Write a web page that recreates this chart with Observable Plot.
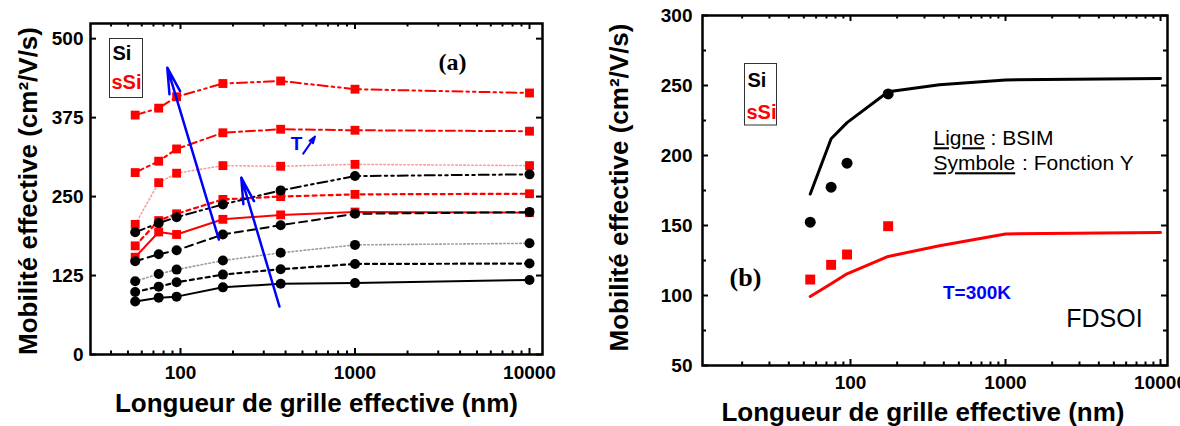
<!DOCTYPE html>
<html><head><meta charset="utf-8">
<script src="https://cdn.jsdelivr.net/npm/d3@7"></script>
<script src="https://cdn.jsdelivr.net/npm/@observablehq/plot@0.6"></script>
<style>
body{margin:0;background:#fff;}
#wrap{position:relative;width:1180px;height:426px;overflow:hidden;background:#fff}
#pa{position:absolute;left:0;top:0}
#pb{position:absolute;left:580px;top:0}
</style></head><body><div id="wrap"><div id="pa"></div><div id="pb"></div></div>
<script>
// ---------- data ----------
const lengthsA = [55, 75, 95, 175, 375, 1000, 10000];
// Si (black circles), five temperatures
const si1 = [84, 90, 91.6, 106.3, 112, 113, 118];
const si2 = [99, 107.4, 114.3, 126.5, 135, 143.3, 144];
const si3 = [116, 127.4, 134.4, 148.7, 161, 173.5, 176];
const si4 = [147.6, 158.7, 165, 190, 204.7, 222.7, 225.4];
const si5 = [193.6, 208, 217.4, 237.6, 259.8, 282.5, 285.2];
// sSi (red squares), five temperatures
const ssi1 = [154, 194, 190, 214, 221, 225.5, 224.5];
const ssi2 = [172, 212, 222.7, 245.5, 250, 253.5, 254.5];
const ssi3 = [206, 272, 287, 299, 298, 301, 299];
const ssi4 = [288, 306, 325.4, 351, 356.6, 355, 353.5];
const ssi5 = [379, 390, 408, 429, 433, 420, 414];

// panel (b)
const lengthsB = [55, 75, 95, 175];
const fyB_Si = [152.4, 177.4, 194.5, 244];
const fyB_sSi = [111.4, 121.9, 129.3, 149.5];
const bsimLengths = [55, 75, 95, 175, 375, 1000, 10000];
const bsimSi = [172.5, 212, 223.5, 245.5, 250.5, 254, 255];
const bsimSsi = [99.3, 108.4, 115.5, 127.9, 135.5, 144, 145];

// ticks
const xTickLabels = [100, 1000, 10000];
const yTicksA = [0, 125, 250, 375, 500];
const yTicksB = [50, 100, 150, 200, 250, 300];
const yMinorB = [75, 125, 175, 225, 275];

// annotation arrows (data units)
const tArrows = [
  {x1: 166, y1: 182, x2: 84, y2: 454},
  {x1: 369, y1: 76, x2: 223, y2: 280}
];
const tSmallArrow = [{x1: 505, y1: 318, x2: 590, y2: 345}];

// ---------- helpers ----------
const FONT = "Liberation Sans, Arial, Helvetica, sans-serif";
const SERIF = "Liberation Serif, Times New Roman, serif";
const BLUE = "#0000ff";
const RED = "#ff0000";
function rows(xs, ys) { return xs.map((x, i) => ({x, y: ys[i]})); }
function minorLog(lo, hi) {
  const out = [];
  for (let d = 10; d <= 10000; d *= 10)
    for (let k = 2; k <= 9; k++) { const v = k * d; if (v > lo && v < hi) out.push(v); }
  return out;
}
// pixel-offset label inside the frame
function label(str, dx, dy, opts) {
  return Plot.text([str], Object.assign({text: d => d, frameAnchor: "top-left", dx, dy,
    textAnchor: "middle", lineAnchor: "middle", fill: "#000"}, opts));
}

// ---------- panel (a) ----------
const WA = 580, HA = 426, mlA = 90, mrA = 38, mtA = 23, mbA = 72;
const iwA = WA - mlA - mrA, ihA = HA - mtA - mbA;
const xDomA = [30.5, 11870];
const minorA = minorLog(xDomA[0], xDomA[1]);

const siSeries = [
  {d: si1, stroke: "#000", dash: null, w: 2},
  {d: si2, stroke: "#000", dash: "4,4", w: 2.2},
  {d: si3, stroke: "#9a9a9a", dash: "1.5,2.5", w: 1.6},
  {d: si4, stroke: "#000", dash: "8,5", w: 2},
  {d: si5, stroke: "#000", dash: "10,4,2.5,4,2.5,4", w: 2}
];
const ssiSeries = [
  {d: ssi1, stroke: RED, dash: null, w: 2},
  {d: ssi2, stroke: RED, dash: "4,4", w: 2.2},
  {d: ssi3, stroke: "#ff9a9a", dash: "1.5,2.5", w: 1.6},
  {d: ssi4, stroke: RED, dash: "9,4,3,4", w: 2},
  {d: ssi5, stroke: RED, dash: "10,4,2.5,4,2.5,4", w: 2}
];

const marksA = [];
marksA.push(
  Plot.tickY(yTicksA, {y: d => d, insetRight: iwA - 6, stroke: "#000", strokeWidth: 2}),
  Plot.tickY(yTicksA, {y: d => d, insetLeft: iwA - 6, stroke: "#000", strokeWidth: 2}),
  Plot.tickX(xTickLabels, {x: d => d, insetTop: ihA - 6, stroke: "#000", strokeWidth: 2}),
  Plot.tickX(xTickLabels, {x: d => d, insetBottom: ihA - 6, stroke: "#000", strokeWidth: 2}),
  Plot.tickX(minorA, {x: d => d, insetTop: ihA - 3.5, stroke: "#000", strokeWidth: 2}),
  Plot.tickX(minorA, {x: d => d, insetBottom: ihA - 3.5, stroke: "#000", strokeWidth: 2})
);
for (const s of ssiSeries) {
  marksA.push(Plot.line(rows(lengthsA, s.d), {x: "x", y: "y", stroke: s.stroke, strokeWidth: s.w, strokeDasharray: s.dash}));
}
for (const s of ssiSeries) {
  marksA.push(Plot.dot(rows(lengthsA, s.d), {x: "x", y: "y", symbol: "square", r: 5, fill: RED, stroke: "none"}));
}
for (const s of siSeries) {
  marksA.push(Plot.line(rows(lengthsA, s.d), {x: "x", y: "y", stroke: s.stroke, strokeWidth: s.w, strokeDasharray: s.dash}));
}
for (const s of siSeries) {
  marksA.push(Plot.dot(rows(lengthsA, s.d), {x: "x", y: "y", symbol: "circle", r: 5, fill: "#000", stroke: "none"}));
}
marksA.push(
  Plot.arrow(tArrows, {x1: "x1", y1: "y1", x2: "x2", y2: "y2", stroke: BLUE, strokeWidth: 2.5, headLength: 16, headAngle: 24}),
  Plot.arrow(tSmallArrow, {x1: "x1", y1: "y1", x2: "x2", y2: "y2", stroke: BLUE, strokeWidth: 2, headLength: 7, headAngle: 35}),
  label("T", 206, 120, {fill: BLUE, fontSize: 19, fontWeight: "bold"}),
  Plot.frame({stroke: "#333", strokeWidth: 1, insetLeft: 19, insetTop: 15, insetRight: 400, insetBottom: 257}),
  label("Si", 22, 30, {textAnchor: "start", fontSize: 20, fontWeight: "bold"}),
  label("sSi", 21, 59, {textAnchor: "start", fill: RED, fontSize: 20, fontWeight: "bold"}),
  label("(a)", 362, 39, {fontSize: 24, fontWeight: "bold", fontFamily: SERIF}),
  Plot.frame({stroke: "#000", strokeWidth: 2.5}),
  Plot.axisY(yTicksA, {tickSize: 0, tickPadding: 7, fontSize: 19, fontWeight: "bold", label: null}),
  Plot.axisX(xTickLabels, {tickSize: 0, tickPadding: 11, fontSize: 19, fontWeight: "bold", label: null, tickFormat: d => String(d)}),
  Plot.text(["Mobilité effective (cm²/V/s)"], {text: d => d, frameAnchor: "left", textAnchor: "middle", lineAnchor: "middle", rotate: -90, dx: -62, dy: 2, fontSize: 26, fontWeight: "bold"}),
  Plot.text(["Longueur de grille effective (nm)"], {text: d => d, frameAnchor: "bottom", textAnchor: "middle", lineAnchor: "middle", dy: 49, fontSize: 26, fontWeight: "bold"})
);

const plotA = Plot.plot({
  width: WA, height: HA,
  marginLeft: mlA, marginRight: mrA, marginTop: mtA, marginBottom: mbA,
  style: {fontFamily: FONT, color: "#000", background: "transparent", overflow: "visible"},
  x: {type: "log", domain: xDomA},
  y: {domain: [0, 524]},
  marks: marksA
});
document.getElementById("pa").appendChild(plotA);

// ---------- panel (b) ----------
const WB = 600, HB = 426, mlB = 122, mrB = 13, mtB = 15, mbB = 61;
const iwB = WB - mlB - mrB, ihB = HB - mtB - mbB;
const xDomB = [11.1, 11090];
const minorB = minorLog(xDomB[0], xDomB[1]);

const marksB = [
  Plot.tickY(yTicksB, {y: d => d, insetRight: iwB - 6, stroke: "#000", strokeWidth: 2}),
  Plot.tickY(yTicksB, {y: d => d, insetLeft: iwB - 6, stroke: "#000", strokeWidth: 2}),
  Plot.tickY(yMinorB, {y: d => d, insetRight: iwB - 4, stroke: "#000", strokeWidth: 2}),
  Plot.tickY(yMinorB, {y: d => d, insetLeft: iwB - 4, stroke: "#000", strokeWidth: 2}),
  Plot.tickX(xTickLabels, {x: d => d, insetTop: ihB - 6, stroke: "#000", strokeWidth: 2}),
  Plot.tickX(xTickLabels, {x: d => d, insetBottom: ihB - 6, stroke: "#000", strokeWidth: 2}),
  Plot.tickX(minorB, {x: d => d, insetTop: ihB - 3.5, stroke: "#000", strokeWidth: 2}),
  Plot.tickX(minorB, {x: d => d, insetBottom: ihB - 3.5, stroke: "#000", strokeWidth: 2}),
  Plot.line(rows(bsimLengths, bsimSi), {x: "x", y: "y", stroke: "#000", strokeWidth: 3}),
  Plot.line(rows(bsimLengths, bsimSsi), {x: "x", y: "y", stroke: RED, strokeWidth: 3}),
  Plot.dot(rows(lengthsB, fyB_Si), {x: "x", y: "y", symbol: "circle", r: 5.5, fill: "#000", stroke: "none"}),
  Plot.dot(rows(lengthsB, fyB_sSi), {x: "x", y: "y", symbol: "square", r: 5.6, fill: RED, stroke: "none"}),
  Plot.frame({stroke: "#333", strokeWidth: 1, insetLeft: 42, insetTop: 48, insetRight: 391, insetBottom: 240.5}),
  label("Si", 45, 65, {textAnchor: "start", fontSize: 20, fontWeight: "bold"}),
  label("sSi", 44, 97, {textAnchor: "start", fill: RED, fontSize: 20, fontWeight: "bold"}),
  label("Ligne", 231, 123, {textAnchor: "start", fontSize: 21}),
  label(": BSIM", 288, 123, {textAnchor: "start", fontSize: 21}),
  label("Symbole", 231, 148, {textAnchor: "start", fontSize: 21}),
  label(": Fonction Y", 319.5, 148, {textAnchor: "start", fontSize: 21}),
  label("(b)", 43, 262, {fontSize: 26, fontWeight: "bold", fontFamily: SERIF}),
  label("T=300K", 274.5, 277, {fill: BLUE, fontSize: 19, fontWeight: "bold"}),
  label("FDSOI", 402, 303, {fontSize: 25}),
  Plot.frame({stroke: "#000", strokeWidth: 2.5}),
  Plot.axisY(yTicksB, {tickSize: 0, tickPadding: 10, fontSize: 19, fontWeight: "bold", label: null}),
  Plot.axisX(xTickLabels, {tickSize: 0, tickPadding: 10, fontSize: 19, fontWeight: "bold", label: null, tickFormat: d => String(d)}),
  Plot.text(["Mobilité effective (cm²/V/s)"], {text: d => d, frameAnchor: "left", textAnchor: "middle", lineAnchor: "middle", rotate: -90, dx: -83, dy: -3, fontSize: 26, fontWeight: "bold"}),
  Plot.text(["Longueur de grille effective (nm)"], {text: d => d, frameAnchor: "bottom", textAnchor: "middle", lineAnchor: "middle", dx: -12, dy: 47, fontSize: 26, fontWeight: "bold"})
];

const plotB = Plot.plot({
  width: WB, height: HB,
  marginLeft: mlB, marginRight: mrB, marginTop: mtB, marginBottom: mbB,
  style: {fontFamily: FONT, color: "#000", background: "transparent", overflow: "visible"},
  x: {type: "log", domain: xDomB},
  y: {domain: [50, 300]},
  marks: marksB
});
document.getElementById("pb").appendChild(plotB);

// underline "Ligne" and "Symbole"
d3.select(plotB).selectAll("text").filter(function() {
  return this.textContent === "Ligne" || this.textContent === "Symbole";
}).style("text-decoration", "underline");
</script>
</body></html>
